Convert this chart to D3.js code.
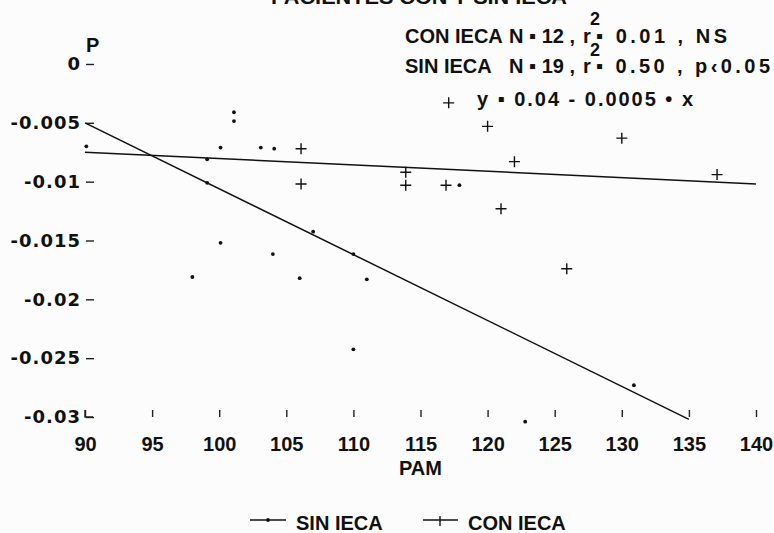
<!DOCTYPE html>
<html>
<head>
<meta charset="utf-8">
<script src="https://cdn.jsdelivr.net/npm/d3@7"></script>
<style>
  body { margin: 0; background: #fcfcfc; }
  svg { display: block; }
  .lbl { font-family: "Liberation Sans", Arial, sans-serif; font-weight: bold; fill: #111; }
  .ylab text { font-family: "DejaVu Sans", sans-serif; font-weight: bold; font-size: 18px; letter-spacing: 1px; fill: #111; }
  .xlab text { font-family: "Liberation Sans", Arial, sans-serif; font-weight: bold; font-size: 20px; fill: #111; }
  .tick line { stroke: #222; stroke-width: 1.4; }
</style>
</head>
<body>
<div id="chart"></div>
<script>
// values
var xTicks = [90, 95, 100, 105, 110, 115, 120, 125, 130, 135, 140];
var yTicks = [0, -0.005, -0.01, -0.015, -0.02, -0.025, -0.03];
var yTickLabels = ["0", "-0.005", "-0.01", "-0.015", "-0.02", "-0.025", "-0.03"];

// SIN IECA (dots)
var sinX = [90.1, 101.1, 101.1, 100.1, 103.1, 104.1, 99.1, 99.1, 107.0, 100.1, 104.0, 110.0, 98.0, 106.0, 111.0, 110.0, 117.9, 130.9, 122.8];
var sinY = [-0.0070, -0.0041, -0.00485, -0.0071, -0.0071, -0.0072, -0.0081, -0.0101, -0.01425, -0.0152, -0.01615, -0.01615, -0.0181, -0.0182, -0.0183, -0.02425, -0.0103, -0.0273, -0.0304];
// CON IECA (crosses)
var conX = [106.1, 106.1, 117.1, 120.0, 130.0, 122.0, 113.9, 113.9, 116.9, 121.0, 137.1, 125.9];
var conY = [-0.0072, -0.0102, -0.0033, -0.0053, -0.0063, -0.0083, -0.0092, -0.0103, -0.0103, -0.0123, -0.0094, -0.0174];

// fitted lines (end points)
var sinLineX = [90, 135];
var sinLineY = [-0.0050, -0.0302];
var conLineX = [90, 140];
var conLineY = [-0.0075, -0.0102];

// statistics text, in pieces
var conStats = ["CON IECA", "N \u25AA 12 ,", "r", "\u25AA 0.01 , NS"];
var sinStats = ["SIN IECA", "N \u25AA 19 ,", "r", "\u25AA 0.50 , p\u20390.05"];
var fitText = "y \u25AA 0.04 - 0.0005 \u2022 x";

var svgWidth = 774, svgHeight = 533;

var svg = d3.select("#chart").append("svg")
    .attr("width", svgWidth)
    .attr("height", svgHeight);

var xScale = d3.scaleLinear().domain([90, 140]).range([85, 756]);
var yScale = d3.scaleLinear().domain([-0.03, 0]).range([417, 64]);

// x axis: short upward ticks, no domain line
var xAxis = d3.axisBottom(xScale)
    .tickValues(xTicks)
    .tickFormat(d3.format("d"))
    .tickSizeInner(-7)
    .tickSizeOuter(0)
    .tickPadding(20);
svg.append("g")
    .attr("class", "xlab")
    .attr("transform", "translate(0,417)")
    .call(xAxis)
    .call(g => g.select(".domain").remove());

// y axis: ticks pointing into the plot
var yAxis = d3.axisLeft(yScale)
    .tickValues(yTicks)
    .tickFormat((d, i) => yTickLabels[i])
    .tickSizeInner(-8)
    .tickSizeOuter(0)
    .tickPadding(5);
svg.append("g")
    .attr("class", "ylab")
    .attr("transform", "translate(86,0)")
    .call(yAxis)
    .call(g => g.select(".domain").remove());

// corner piece of the frame
svg.append("path")
    .attr("d", `M${xScale(90)},${yScale(-0.03) - 7}V${yScale(-0.03)}H${xScale(90) + 8}`)
    .attr("fill", "none")
    .attr("stroke", "#222")
    .attr("stroke-width", 1.4);

// axis titles
svg.append("text").attr("class", "lbl")
    .attr("x", 86).attr("y", 52)
    .style("font-size", "20px")
    .text("P");
svg.append("text").attr("class", "lbl")
    .attr("x", xScale(115)).attr("y", 475)
    .attr("text-anchor", "middle")
    .style("font-size", "20px")
    .text("PAM");

// regression lines
var line = d3.line().x(d => xScale(d[0])).y(d => yScale(d[1]));
svg.append("path")
    .datum(d3.zip(sinLineX, sinLineY))
    .attr("d", line)
    .attr("fill", "none").attr("stroke", "#111").attr("stroke-width", 1.5);
svg.append("path")
    .datum(d3.zip(conLineX, conLineY))
    .attr("d", line)
    .attr("fill", "none").attr("stroke", "#111").attr("stroke-width", 1.5);

// SIN IECA points
svg.append("g").selectAll("circle")
    .data(d3.zip(sinX, sinY))
    .enter().append("circle")
    .attr("cx", d => xScale(d[0]))
    .attr("cy", d => yScale(d[1]))
    .attr("r", 1.9)
    .attr("fill", "#111");

// CON IECA points
var plus = "M-5.5,0H5.5M0,-5.5V5.5";
svg.append("g").selectAll("path")
    .data(d3.zip(conX, conY))
    .enter().append("path")
    .attr("transform", d => `translate(${xScale(d[0])},${yScale(d[1])})`)
    .attr("d", plus)
    .attr("stroke", "#111")
    .attr("stroke-width", 1.4);

// title (cut off at the top of the scan)
svg.append("text").attr("class", "lbl")
    .attr("x", 271).attr("y", 4)
    .attr("textLength", 296).attr("lengthAdjust", "spacingAndGlyphs")
    .style("font-size", "20px")
    .text("PACIENTES CON Y SIN IECA");

// statistics block: pieces placed like in the scan, "2" above the r
var pieceX = [405, 509, 583, 596];
var pieceLen = [null, 66, null, null];
function statLine(parts, y, endX, supY) {
    var g = svg.append("g");
    parts.forEach(function(s, i) {
        var t = g.append("text").attr("class", "lbl")
            .attr("x", pieceX[i]).attr("y", y)
            .style("font-size", "20px")
            .text(s);
        var len = i === parts.length - 1 ? endX - pieceX[i] : pieceLen[i];
        if (len) t.attr("textLength", len).attr("lengthAdjust", "spacing");
    });
    g.append("text").attr("class", "lbl")
        .attr("x", 590).attr("y", supY)
        .style("font-size", "18px")
        .text("2");
}
statLine(conStats, 43, 727, 25);
statLine(sinStats, 73, 770, 56);
svg.append("text").attr("class", "lbl")
    .attr("x", 477).attr("y", 106)
    .attr("textLength", 216).attr("lengthAdjust", "spacing")
    .style("font-size", "20px")
    .text(fitText);

// legend
var legendY = 520;
var legend = svg.append("g");
legend.append("line")
    .attr("x1", 250).attr("x2", 286).attr("y1", legendY).attr("y2", legendY)
    .attr("stroke", "#111").attr("stroke-width", 1.5);
legend.append("circle")
    .attr("cx", 268).attr("cy", legendY).attr("r", 1.9).attr("fill", "#111");
legend.append("text").attr("class", "lbl")
    .attr("x", 296).attr("y", 530)
    .style("font-size", "20px")
    .text("SIN IECA");
legend.append("line")
    .attr("x1", 423).attr("x2", 458).attr("y1", legendY).attr("y2", legendY)
    .attr("stroke", "#111").attr("stroke-width", 1.5);
legend.append("path")
    .attr("transform", `translate(440,${legendY + 1})`)
    .attr("d", "M0,-5V5")
    .attr("stroke", "#111").attr("stroke-width", 1.4);
legend.append("text").attr("class", "lbl")
    .attr("x", 468).attr("y", 530)
    .style("font-size", "20px")
    .text("CON IECA");
</script>
</body>
</html>
